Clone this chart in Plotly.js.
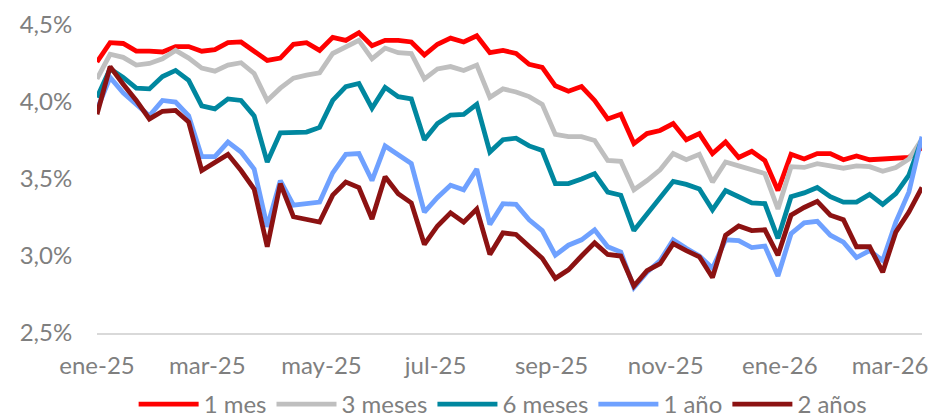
<!DOCTYPE html>
<html>
<head>
<meta charset="utf-8">
<script src="https://cdn.plot.ly/plotly-3.0.1.min.js"></script>
<style>html,body{margin:0;padding:0;background:#fff;}#chart{width:930px;height:417px;}</style>
</head>
<body>
<div id="chart"></div>
<script>
const dates = [
"2025-01-01","2025-01-08","2025-01-15","2025-01-22","2025-01-29","2025-02-05","2025-02-12","2025-02-19","2025-02-26",
"2025-03-05","2025-03-12","2025-03-19","2025-03-26","2025-04-02","2025-04-09","2025-04-16","2025-04-23","2025-04-30",
"2025-05-07","2025-05-14","2025-05-21","2025-05-28","2025-06-04","2025-06-11","2025-06-18","2025-06-25","2025-07-02",
"2025-07-09","2025-07-16","2025-07-23","2025-07-30","2025-08-06","2025-08-13","2025-08-20","2025-08-27","2025-09-03",
"2025-09-10","2025-09-17","2025-09-24","2025-10-01","2025-10-08","2025-10-15","2025-10-22","2025-10-29","2025-11-05",
"2025-11-12","2025-11-19","2025-11-26","2025-12-03","2025-12-10","2025-12-17","2025-12-24","2025-12-31","2026-01-07",
"2026-01-14","2026-01-21","2026-01-28","2026-02-04","2026-02-11","2026-02-18","2026-02-25","2026-03-04","2026-03-11","2026-03-18"
];

const mes1 = [4.26,4.385,4.38,4.33,4.33,4.325,4.36,4.36,4.33,4.34,4.385,4.39,4.33,4.27,4.285,4.375,4.385,
4.335,4.42,4.40,4.45,4.365,4.40,4.40,4.39,4.305,4.375,4.415,4.39,4.43,4.32,4.335,4.315,4.245,
4.225,4.105,4.07,4.10,4.01,3.89,3.92,3.73,3.795,3.815,3.86,3.755,3.795,3.665,3.74,3.64,
3.68,3.62,3.425,3.66,3.63,3.665,3.665,3.625,3.65,3.625,3.63,3.635,3.64,3.705];

const meses3 = [4.15,4.31,4.29,4.24,4.25,4.28,4.335,4.285,4.22,4.20,4.24,4.255,4.185,4.01,4.09,4.155,4.175,
4.19,4.315,4.355,4.40,4.28,4.35,4.32,4.315,4.15,4.215,4.23,4.205,4.24,4.03,4.085,4.065,4.035,
3.985,3.79,3.775,3.775,3.75,3.62,3.615,3.43,3.49,3.56,3.665,3.625,3.66,3.48,3.61,3.585,
3.56,3.535,3.305,3.58,3.575,3.60,3.585,3.57,3.585,3.58,3.55,3.575,3.63,3.76];

const meses6 = [4.03,4.215,4.16,4.09,4.085,4.165,4.205,4.14,3.975,3.955,4.02,4.01,3.91,3.61,3.80,3.80,3.805,
3.835,4.01,4.10,4.12,3.96,4.095,4.035,4.02,3.755,3.86,3.915,3.92,3.985,3.675,3.755,3.765,3.715,
3.685,3.47,3.47,3.50,3.535,3.415,3.395,3.165,3.275,3.385,3.485,3.465,3.435,3.30,3.425,3.385,
3.345,3.34,3.115,3.385,3.41,3.445,3.385,3.35,3.35,3.40,3.335,3.405,3.525,3.76];

const ano1 = [3.95,4.16,4.06,3.985,3.91,4.01,4.00,3.91,3.645,3.645,3.74,3.675,3.565,3.19,3.49,3.33,3.34,
3.35,3.54,3.66,3.665,3.49,3.715,3.66,3.60,3.285,3.38,3.46,3.43,3.565,3.205,3.34,3.335,3.235,
3.165,3.005,3.07,3.105,3.17,3.06,3.025,2.795,2.895,2.97,3.105,3.05,3.00,2.92,3.105,3.10,
3.055,3.065,2.87,3.145,3.215,3.225,3.135,3.09,2.99,3.035,2.97,3.22,3.415,3.775];

const anos2 = [3.92,4.23,4.115,4.01,3.89,3.94,3.945,3.87,3.555,3.61,3.66,3.555,3.435,3.06,3.47,3.255,3.235,
3.22,3.395,3.48,3.445,3.24,3.515,3.405,3.345,3.075,3.195,3.28,3.22,3.305,3.01,3.15,3.14,3.065,
2.985,2.855,2.91,3.00,3.085,3.01,3.00,2.805,2.905,2.95,3.08,3.035,2.995,2.86,3.135,3.195,
3.165,3.17,3.005,3.265,3.315,3.355,3.265,3.235,3.06,3.06,2.895,3.155,3.285,3.445];

const seriesNames = ["1 mes","3 meses","6 meses","1 año","2 años"];
const seriesColors = ["#FF0000","#BFBFBF","#00879F","#6FA1FF","#8C1212"];
const seriesValues = [mes1, meses3, meses6, ano1, anos2];

const xTickVals = ["2025-01-01","2025-03-01","2025-05-01","2025-07-01","2025-09-01","2025-11-01","2026-01-01","2026-03-01"];
const xTickText = ["ene-25","mar-25","may-25","jul-25","sep-25","nov-25","ene-26","mar-26"];
const yTickVals = [2.5,3.0,3.5,4.0,4.5];
const yTickText = ["2,5%","3,0%","3,5%","4,0%","4,5%"];

const traces = seriesNames.map((n,k)=>({
  x: dates, y: seriesValues[k], name: n, type: 'scatter', mode: 'lines',
  line: {color: seriesColors[k], width: 4.8, shape: 'linear'},
  hoverinfo: 'skip'
}));

const font = {family: 'Lato, "Liberation Sans", sans-serif', size: 24, color: '#7F7F7F'};

const layout = {
  width: 930, height: 417,
  margin: {l: 97, r: 8, t: 24.5, b: 84, pad: 0},
  paper_bgcolor: '#fff', plot_bgcolor: '#fff',
  font: font,
  showlegend: true,
  legend: {orientation: 'h', xref: 'container', yref: 'container', x: 0.541, xanchor: 'center',
           y: 0.03, yanchor: 'middle', font: font, itemwidth: 60, tracegroupgap: 0, traceorder: 'normal'},
  xaxis: {type: 'date', range: ['2025-01-01','2026-03-18'], showgrid: false, zeroline: false,
          showline: true, linecolor: '#D9D9D9', linewidth: 1.5,
          tickmode: 'array', tickvals: xTickVals, ticktext: xTickText,
          ticks: 'outside', ticklen: 11, tickcolor: 'rgba(0,0,0,0)', tickfont: font},
  yaxis: {range: [2.5, 4.5], showgrid: false, zeroline: false, showline: false,
          tickmode: 'array', tickvals: yTickVals, ticktext: yTickText,
          ticks: 'outside', ticklen: 19, tickcolor: 'rgba(0,0,0,0)', tickfont: font}
};

Plotly.newPlot('chart', traces, layout, {staticPlot: true, displayModeBar: false});
</script>
</body>
</html>
